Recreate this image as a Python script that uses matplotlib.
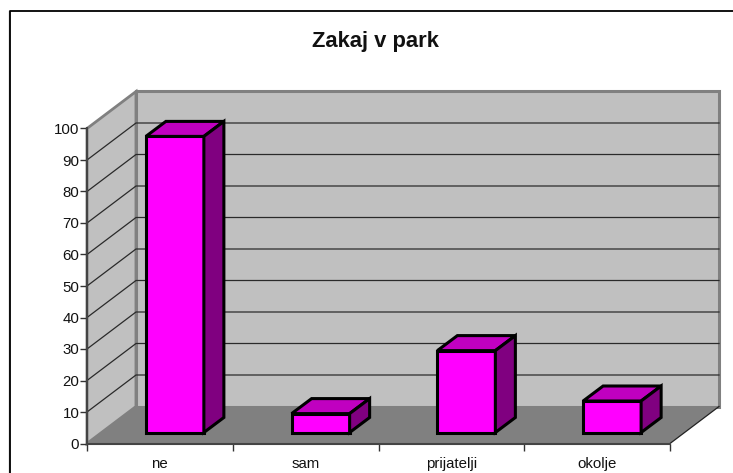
"""Zakaj v park -- Excel style 3D column chart, drawn by hand on a 2D axes."""

import matplotlib
matplotlib.use("Agg")
import matplotlib.pyplot as plt
from matplotlib.lines import Line2D
from matplotlib.patches import Polygon

categories = ["ne", "sam", "prijatelji", "okolje"]
values = [94, 6, 26, 10]
y_ticks = list(range(0, 101, 10))
title = "Zakaj v park"

W, H = 733, 473
LEFT, RIGHT, BOTTOM, TOP = 87, 670, 443.5, 128.5   # front plane, pixels

plt.rcParams["font.family"] = ["Liberation Sans", "DejaVu Sans"]

fig = plt.figure(figsize=(W / 100, H / 100), dpi=100)
ax = fig.add_axes([LEFT / W, 1 - BOTTOM / H, (RIGHT - LEFT) / W, (BOTTOM - TOP) / H])
ax.set_xlim(0, len(categories))
ax.set_ylim(0, 100)
ax.patch.set_visible(False)

# pixels -> data units
px = len(categories) / (RIGHT - LEFT)
py = 100 / (BOTTOM - TOP)
dx, dy = 49 * px, 37 * py           # depth of the chart box
bdx, bdy = 20 * px, 15 * py         # depth of a column
lift = 11 * py                      # columns stand inside the floor
n = len(categories)
wall = "#c0c0c0"
edge = "#808080"


def poly(pts, fc, ec, lw, z):
    ax.add_patch(Polygon(pts, closed=True, fc=fc, ec=ec, lw=lw, zorder=z,
                         clip_on=False, joinstyle="miter"))


# frame is cut off by the image on the right and at the bottom
fx, fy = 9.5 / W, 1 - 11.5 / H
fig.add_artist(Line2D([fx - 0.0012, fx - 0.0012], [0, fy], color="#999999", lw=1.0))
fig.add_artist(Line2D([fx, fx, 1], [0, fy, fy], color="black", lw=1.3))

poly([(0, 0), (dx, dy), (dx, 100 + dy), (0, 100)], wall, edge, 2.0, 1)
poly([(dx, dy), (n + dx, dy), (n + dx, 100 + dy), (dx, 100 + dy)], wall, edge, 2.2, 1)
poly([(0, 0), (n, 0), (n + dx, dy), (dx, dy)], edge, "none", 0, 1.5)

for v in y_ticks[1:-1]:
    ax.plot([0, dx, n + dx], [v, v + dy, v + dy], color="#2a2a2a", lw=0.9,
            zorder=2, clip_on=False)
ax.plot([n, n + dx], [0, dy], color="#222222", lw=0.9, zorder=2, clip_on=False)

# columns
width = 58 * px
for i, v in enumerate(values):
    x0 = i + 0.5 - width / 2 + 15 * px
    x1 = x0 + width
    y0, y1 = lift, lift + v
    poly([(x0, y0), (x1, y0), (x1, y1), (x0, y1)], "#ff00ff", "black", 2.2, 3)
    poly([(x0, y1), (x1, y1), (x1 + bdx, y1 + bdy), (x0 + bdx, y1 + bdy)],
         "#c000c0", "black", 2.2, 3)
    poly([(x1, y0), (x1 + bdx, y0 + bdy), (x1 + bdx, y1 + bdy), (x1, y1)],
         "#800080", "black", 2.2, 3)

for s in ["top", "right"]:
    ax.spines[s].set_visible(False)
for s in ["left", "bottom"]:
    ax.spines[s].set_color("#444444")
    ax.spines[s].set_linewidth(1.5)
    ax.spines[s].set_zorder(2.5)

ax.set_yticks(y_ticks)
ax.tick_params(axis="y", labelsize=10.8, length=5, width=1, color="#333333", pad=0.5,
               labelcolor="#111111")
ax.set_xticks(range(n + 1))
ax.set_xticklabels([])
ax.tick_params(axis="x", which="major", length=5, width=1, color="#333333", direction="out")
ax.set_xticks([i + 0.5 for i in range(n)], minor=True)
ax.set_xticklabels(categories, minor=True, fontsize=10.8, color="#111111")
ax.tick_params(axis="x", which="minor", length=0, pad=10)

fig.text(375.5 / W, 1 - 41 / H, title, ha="center", va="center", fontsize=15.8,
         fontweight="bold", color="#111111")

fig.savefig("out.png", dpi=100)
